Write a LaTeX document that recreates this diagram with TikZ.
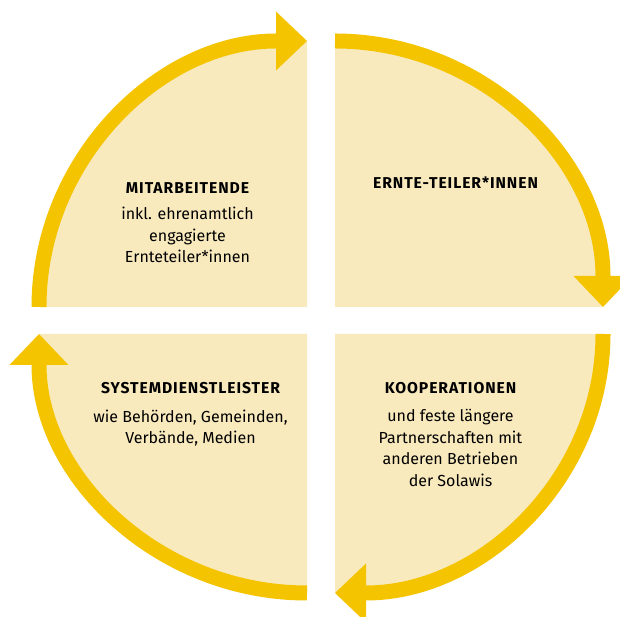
\documentclass[tikz,border=0pt]{standalone}
\usepackage{fontspec}
\setmainfont{Fira Sans}
\newfontfamily\headfont[LetterSpace=6]{Fira Sans}
\usetikzlibrary{arrows.meta,positioning}
\definecolor{solaYellow}{RGB}{245,196,0}
\definecolor{solaFill}{RGB}{249,234,190}
\tikzset{
  quarter/.style={fill=solaFill},
  ring/.style={draw=solaYellow,line width=15pt,
    -{Triangle[length=31pt,width=59pt,line width=0pt]}},
  head/.style={anchor=base,inner sep=0pt,font=\headfont\bfseries\fontsize{15.7}{18}\selectfont},
  desc/.style={align=center,inner sep=0pt,font=\fontsize{16}{21.5}\selectfont}
}

\begin{document}
\begin{tikzpicture}[x=1pt,y=1pt]
      \useasboundingbox (0,0) rectangle (620,617);
      \fill[quarter] (307,310) -- (39,310) arc[start angle=180,end angle=90,x radius=268,y radius=266] -- cycle;
      \fill[quarter] (335,310) -- (335,576) arc[start angle=90,end angle=0,x radius=268,y radius=266] -- cycle;
      \fill[quarter] (335,283) -- (603,283) arc[start angle=0,end angle=-90,x radius=268,y radius=259] -- cycle;
      \fill[quarter] (307,283) -- (307,24) arc[start angle=270,end angle=180,x radius=268,y radius=259] -- cycle;
      \draw[ring] (39,310) arc[start angle=180,end angle=90,x radius=268,y radius=266];
      \draw[ring] (335,576) arc[start angle=90,end angle=0,x radius=268,y radius=266];
      \draw[ring] (603,283) arc[start angle=0,end angle=-90,x radius=268,y radius=259];
      \draw[ring] (307,24) arc[start angle=270,end angle=180,x radius=268,y radius=259];
      \node[head] (mitarbeit) at (187.5,423) {MITARBEITENDE};
      \node[desc,below=13pt of mitarbeit] (mitarbeitText) {inkl. ehrenamtlich\\engagierte\\Ernteteiler*innen};
      \node[head] (ernte) at (455.5,428) {ERNTE-TEILER*INNEN};
      \node[head] (system) at (190.5,223) {SYSTEMDIENSTLEISTER};
      \node[desc,below=15pt of system] (systemText) {wie Behörden, Gemeinden,\\Verbände, Medien};
      \node[head] (koop) at (450.5,223) {KOOPERATIONEN};
      \node[desc,below=15pt of koop] (koopText) {und feste längere\\Partnerschaften mit\\anderen Betrieben\\der Solawis};
\end{tikzpicture}
\end{document}
